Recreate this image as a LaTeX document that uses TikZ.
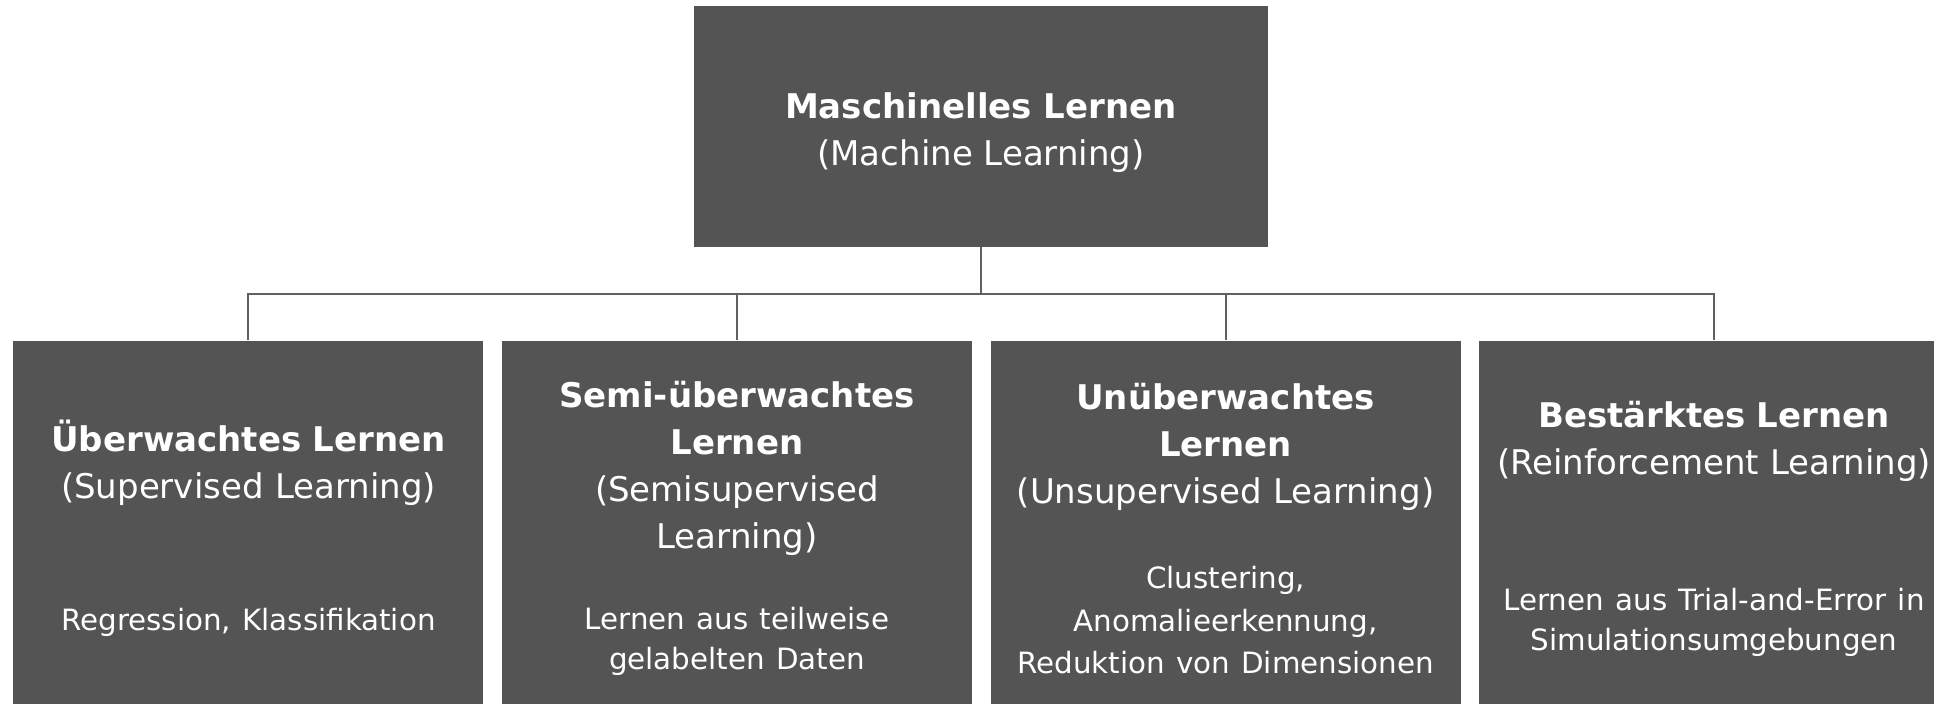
\documentclass[tikz,border=0pt]{standalone}
\usepackage{fontspec}
\setmainfont{DejaVu Sans}
\usetikzlibrary{positioning}
\definecolor{kasten}{RGB}{84,84,84}
\definecolor{linie}{RGB}{96,96,96}
\newcommand{\beschr}{\fontsize{22}{29.5}\selectfont}

\begin{document}
\begin{tikzpicture}[node distance=13.5pt,
  wurzel/.style={fill=kasten, text=white, minimum width=430.5pt, minimum height=180.75pt, inner sep=0pt, align=center, font=\fontsize{25.5}{35.25}\selectfont},
  zweig/.style={fill=kasten, text=white, minimum width=352.5pt, minimum height=282pt, inner sep=0pt, text width=345pt, align=center, font=\fontsize{25.5}{35.25}\selectfont},
  verbindung/.style={draw=linie, line width=1.5pt}]
  \useasboundingbox (0,0) rectangle (1450.5pt,527.25pt);

  % Oberbegriff
  \node[wurzel] (ml) at (735.75pt,432.375pt) {\rule{0pt}{28pt}\textbf{Maschinelles Lernen}\\(Machine Learning)};

  % Die vier Lernarten nebeneinander
  \node[zweig, below=69.75pt of ml, xshift=-549.4pt] (ueberwacht) {\textbf{Überwachtes Lernen}\\(Supervised Learning)\\[63.75pt]\beschr Regression, Klassifikation};
  \node[zweig, right=of ueberwacht] (semi) {\textbf{Semi-überwachtes}\\\textbf{Lernen}\\(Semisupervised\\Learning)\\[31.25pt]\beschr Lernen aus teilweise\\[-5.75pt]gelabelten Daten};
  \node[zweig, right=of semi] (unueberwacht) {\textbf{Unüberwachtes}\\\textbf{Lernen}\\(Unsupervised Learning)\\[34.3pt]\beschr Clustering,\\[2.3pt]Anomalieerkennung,\\[-3.45pt]Reduktion von Dimensionen};
  \node[zweig, right=of unueberwacht] (bestaerkt) {\textbf{Bestärktes Lernen}\\(Reinforcement Learning)\\[73pt]\beschr Lernen aus Trial-and-Error in\\[-5.75pt]Simulationsumgebungen};

  % Verbindungen
  \foreach \art in {ueberwacht,semi,unueberwacht,bestaerkt}
    \draw[verbindung] (ml.south) -- ++(0,-34.9pt) -| (\art.north);
\end{tikzpicture}
\end{document}
